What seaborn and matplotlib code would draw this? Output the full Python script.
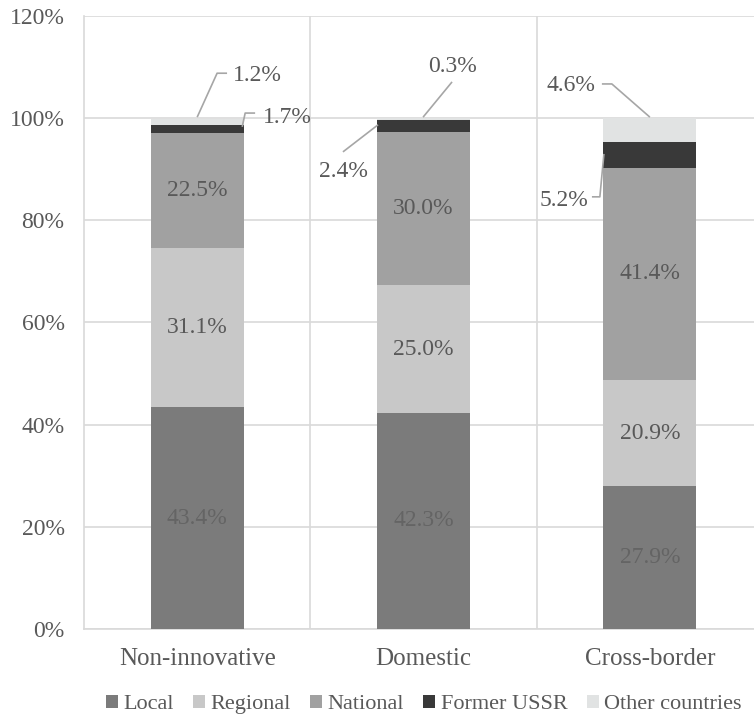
import pandas as pd
import matplotlib.pyplot as plt
import seaborn as sns

# data
groups = ["Non-innovative", "Domestic", "Cross-border"]
series = ["Local", "Regional", "National", "Former USSR", "Other countries"]
local = [43.4, 42.3, 27.9]
regional = [31.1, 25.0, 20.9]
national = [22.5, 30.0, 41.4]
former_ussr = [1.7, 2.4, 5.2]
other = [1.2, 0.3, 4.6]

colors = ["#7b7b7b", "#c8c8c8", "#a1a1a1", "#393939", "#e1e3e3"]
txt = "#595959"
grid_c = "#d9d9d9"
fs = 17

values = [local, regional, national, former_ussr, other]
df = pd.DataFrame({"group": groups * len(series),
                   "series": [s for s in series for _ in groups],
                   "value": [v for vals in values for v in vals]})

sns.set_style("white")
plt.rcParams["font.family"] = ["Liberation Serif", "DejaVu Serif"]

fig = plt.figure(figsize=(7.54, 7.18), dpi=100)
ax = fig.add_axes([0.1114, 0.124, 0.8886, 0.8537])

bottom = [0.0] * len(groups)
for s, c in zip(series, colors):
    sub = df[df["series"] == s]
    sns.barplot(data=sub, x="group", y="value", order=groups, color=c,
                width=0.41, bottom=bottom, ax=ax, label=s, zorder=3,
                edgecolor="none", linewidth=0)
    bottom = [b + v for b, v in zip(bottom, sub["value"])]

handles, labels = ax.get_legend_handles_labels()
if ax.get_legend() is not None:
    ax.get_legend().remove()

# labels inside the three big segments
base = [0.0] * len(groups)
for vals in values[:3]:
    for i, v in enumerate(vals):
        ax.text(i, base[i] + v / 2, f"{v:.1f}%", ha="center", va="center",
                fontsize=fs, color="#646464" if vals is local else txt, zorder=5)
    base = [b + v for b, v in zip(base, vals)]

# callout labels for the small segments
callouts = [
    # (text, text x, text y, ha, leader line x points, y points)
    ("1.2%", 0.16, 108.3, "left", [0.0, 0.088, 0.132], [100.2, 108.8, 108.8]),
    ("1.7%", 0.29, 100.2, "left", [0.199, 0.212, 0.256], [98.3, 101.0, 101.0]),
    ("0.3%", 1.126, 110.2, "center", [0.998, 1.126], [100.2, 107.1]),
    ("2.4%", 0.644, 89.5, "center", [0.799, 0.644], [98.7, 93.4]),
    ("4.6%", 1.76, 106.3, "right", [2.0, 1.832, 1.788], [100.2, 106.7, 106.7]),
    ("5.2%", 1.73, 83.8, "right", [1.797, 1.779, 1.744], [93.0, 84.6, 84.6]),
]
for label, tx, ty, ha, lx, ly in callouts:
    ax.plot(lx, ly, color="#a6a6a6", lw=1.2, zorder=4, solid_capstyle="butt")
    ax.text(tx, ty, label, ha=ha, va="center", fontsize=fs, color=txt, zorder=5)

ax.set_xlim(-0.5, 2.46)
ax.set_ylim(0, 120)
ax.set_yticks(range(0, 121, 20))
ax.set_yticklabels([f"{t}%" for t in range(0, 121, 20)])
ax.yaxis.grid(True, color=grid_c, lw=1.2, zorder=0)
for xv in [0.5, 1.5]:
    ax.axvline(xv, color=grid_c, lw=1.2, zorder=0)
ax.set_xlabel("")
ax.set_ylabel("")
ax.tick_params(axis="both", length=0, colors=txt)
ax.tick_params(axis="y", pad=14, labelsize=17)
ax.tick_params(axis="x", pad=14, labelsize=18)
for side in ["top", "right"]:
    ax.spines[side].set_visible(False)
for side in ["left", "bottom"]:
    ax.spines[side].set_color(grid_c)
    ax.spines[side].set_linewidth(1.2)

fig.legend(handles=handles, labels=labels, loc="center", bbox_to_anchor=(0.562, 0.019),
           ncol=5, frameon=False, fontsize=16, labelcolor=txt,
           handlelength=0.55, handleheight=0.55, handletextpad=0.25, columnspacing=0.85)

fig.savefig("out.png", dpi=100)
